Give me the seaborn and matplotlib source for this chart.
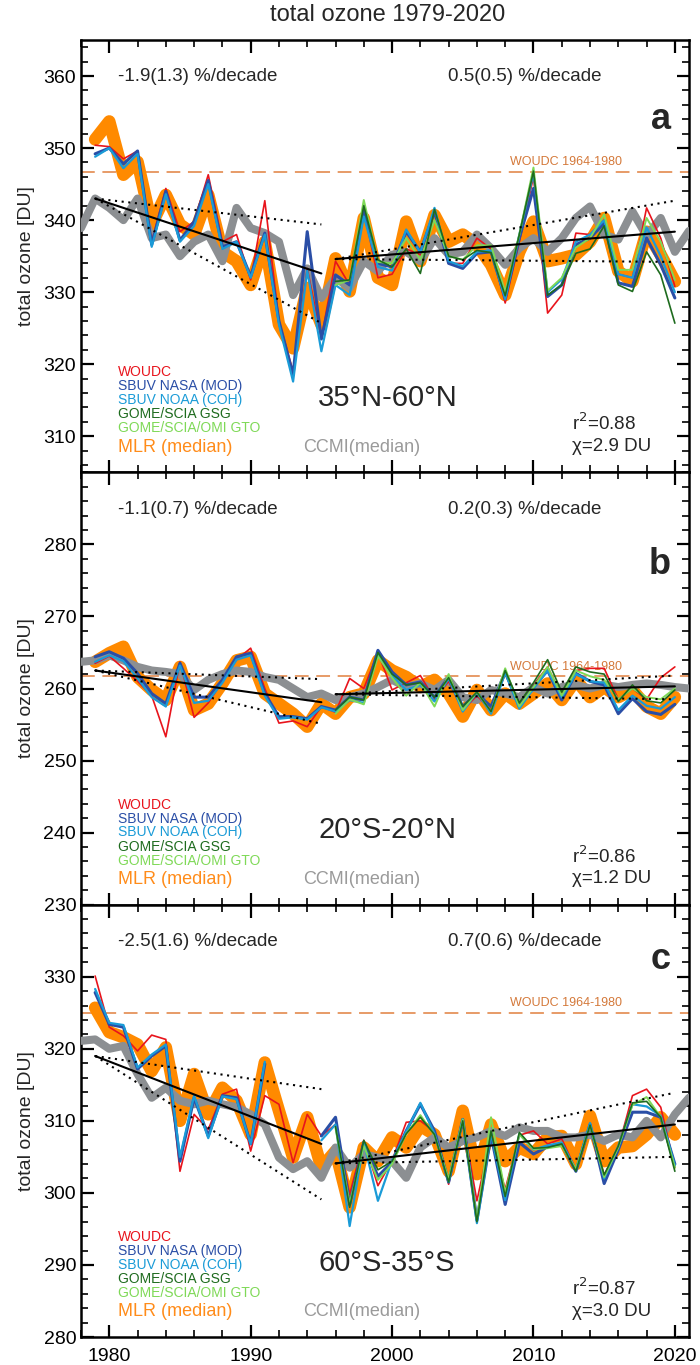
import numpy as np
import pandas as pd
import seaborn as sns
import matplotlib.pyplot as plt
from matplotlib.ticker import MultipleLocator

# Years
years = np.arange(1979, 2021)
gome_years = np.arange(1996, 2021)
ccmi_years = np.arange(1978, 2022)
nan = np.nan

# Panel a: 35N-60N
woudc_a = [350.4, 350.2, 348.5, 349.6, 337.0, 344.4, 338.4, 339.8, 346.3, 337.0,
           338.0, 331.7, 342.7, 326.0, 319.0, 333.3, 323.6, 334.3, 331.0, 341.5,
           332.0, 332.5, 336.0, 335.2, 341.0, 334.0, 334.0, 337.5, 336.0, 328.5,
           337.0, 346.0, 327.1, 329.6, 338.2, 338.0, 340.0, 332.5, 332.0, 341.7,
           337.5, 330.8]
nasa_a = [349.2, 350.0, 347.8, 349.6, 336.6, 344.0, 337.2, 339.8, 345.5, 336.3,
          337.0, 332.2, 338.2, 326.0, 318.5, 338.4, 323.5, 332.4, 331.0, 341.2,
          334.0, 333.5, 338.4, 335.6, 341.2, 334.0, 333.3, 335.4, 335.6, 329.2,
          337.5, 344.4, 329.4, 331.0, 336.6, 337.5, 339.6, 331.3, 330.8, 337.5,
          333.8, 329.2]
noaa_a = [348.8, 350.0, 347.2, 349.2, 336.3, 343.6, 337.0, 339.2, 345.0, 336.0,
          337.0, 332.0, 338.0, 325.5, 317.6, 333.0, 321.8, 331.0, 329.6, 340.5,
          333.5, 333.0, 338.7, 335.5, 341.7, 334.3, 333.6, 335.6, 335.8, 329.0,
          338.0, 346.5, 330.0, 331.8, 337.0, 338.0, 340.0, 332.5, 332.0, 339.0,
          335.0, 330.0]
gsg_a = [331.5, 331.7, 342.0, 334.5, 333.5, 336.0, 332.6, 341.5, 335.0, 334.5,
         335.8, 335.5, 329.5, 338.0, 346.8, 329.6, 331.0, 335.4, 336.0, 339.2,
         331.0, 330.1, 335.6, 332.4, 325.7]
gto_a = [331.0, 331.7, 342.8, 334.2, 334.0, 337.5, 334.5, 340.0, 335.0, 334.5,
         336.5, 336.5, 330.0, 338.0, 347.3, 330.2, 332.0, 336.2, 337.5, 340.8,
         333.1, 333.1, 340.3, 337.0, 331.7]
mlr_a = [351.2, 353.7, 346.3, 348.1, 339.4, 343.5, 339.4, 338.0, 343.5, 335.6,
         334.3, 331.0, 337.0, 325.5, 322.2, 330.6, 325.5, 334.7, 330.1, 340.3,
         332.0, 331.0, 339.8, 334.3, 340.7, 337.0, 338.0, 336.6, 333.8, 329.6,
         335.6, 339.8, 334.3, 334.7, 335.2, 337.0, 340.3, 332.9, 331.5, 338.4,
         335.2, 331.5]
ccmi_a = [338.9, 343.0, 341.7, 340.0, 343.0, 337.5, 338.0, 335.0, 337.0, 338.0,
          334.3, 341.7, 338.9, 338.2, 337.0, 329.6, 333.3, 329.2, 332.0, 330.6,
          334.3, 332.9, 335.2, 335.6, 334.3, 337.5, 335.2, 335.6, 338.0, 336.1,
          333.8, 336.1, 337.5, 335.6, 337.5, 340.3, 341.9, 338.0, 337.3, 341.2,
          337.8, 340.3, 335.6, 338.5]

# Panel b: 20S-20N
woudc_b = [263.5, 264.5, 262.8, 261.0, 259.0, 253.3, 263.7, 256.0, 258.0, 261.0,
           264.0, 265.6, 260.0, 255.2, 255.5, 254.7, 257.5, 256.7, 261.4, 260.0,
           265.0, 259.8, 260.8, 261.8, 258.5, 261.0, 257.0, 259.0, 257.0, 262.0,
           258.0, 260.5, 263.0, 259.0, 262.5, 262.8, 262.8, 258.5, 260.0, 258.5,
           261.5, 263.0]
nasa_b = [264.4, 265.1, 264.2, 262.1, 259.3, 257.9, 263.5, 258.8, 258.8, 261.2,
          264.4, 264.9, 259.3, 256.1, 256.1, 255.8, 257.5, 257.0, 258.8, 258.4,
          265.3, 262.3, 260.5, 260.9, 258.8, 261.6, 257.5, 259.3, 257.5, 262.3,
          257.5, 260.2, 262.5, 258.4, 262.1, 261.0, 260.5, 256.5, 258.6, 256.8,
          256.4, 257.8]
noaa_b = [263.7, 264.6, 263.8, 261.4, 258.8, 257.5, 263.2, 258.0, 258.3, 260.8,
          264.0, 264.6, 259.0, 255.8, 256.0, 255.7, 257.4, 256.8, 258.4, 258.0,
          264.8, 261.8, 259.8, 260.5, 258.2, 261.4, 256.8, 259.5, 256.5, 262.2,
          257.2, 260.0, 262.5, 258.8, 262.0, 261.0, 260.8, 257.0, 259.0, 257.6,
          257.2, 258.8]
gsg_b = [257.0, 258.8, 258.4, 265.0, 262.0, 260.5, 260.8, 258.8, 261.5, 257.5,
         259.5, 256.8, 262.5, 258.0, 260.8, 264.0, 259.5, 263.0, 262.3, 262.0,
         258.2, 260.5, 258.3, 258.0, 259.8]
gto_b = [256.5, 258.5, 257.8, 264.5, 261.5, 259.0, 260.8, 257.5, 262.0, 257.0,
         259.5, 256.8, 262.8, 257.5, 260.2, 263.0, 259.0, 262.5, 261.7, 261.2,
         258.5, 260.0, 258.8, 258.5, 260.0]
mlr_b = [263.7, 264.9, 265.8, 261.6, 259.8, 258.4, 263.0, 257.0, 257.9, 260.7,
         263.9, 264.4, 259.3, 257.9, 256.5, 254.7, 257.9, 256.5, 258.8, 259.3,
         263.9, 262.5, 261.6, 260.2, 261.2, 259.3, 256.1, 259.8, 257.0, 259.3,
         257.9, 259.3, 260.7, 258.4, 261.2, 258.8, 260.2, 258.8, 259.8, 257.5,
         256.5, 258.8]
ccmi_b = [263.7, 263.9, 264.6, 263.9, 263.0, 262.5, 262.3, 262.0, 259.8, 261.2,
          262.0, 262.5, 262.3, 261.6, 261.2, 260.0, 258.8, 259.3, 258.4, 258.8,
          259.3, 260.2, 261.2, 260.2, 260.7, 259.8, 261.2, 258.8, 258.4, 259.8,
          259.3, 258.8, 260.2, 259.3, 260.2, 260.5, 260.0, 260.5, 260.2, 260.5,
          260.7, 260.5, 260.2, 260.0]

# Panel c: 60S-35S (SBUV has no data 1992-1994)
woudc_c = [330.1, 323.0, 321.8, 319.7, 321.9, 321.3, 303.0, 310.9, 308.8, 313.7,
           314.4, 305.8, 313.5, 312.3, 304.2, 310.9, 307.9, 309.5, 299.8, 307.3,
           301.0, 304.5, 309.8, 310.0, 308.5, 301.2, 310.0, 298.9, 308.0, 300.5,
           308.0, 308.6, 306.8, 307.5, 303.2, 309.5, 302.5, 306.3, 313.5, 314.4,
           311.9, 303.5]
nasa_c = [327.8, 323.4, 323.0, 317.2, 319.0, 320.4, 304.4, 313.2, 307.9, 313.5,
          313.2, 306.8, 317.9, nan, nan, nan, 307.9, 310.5, 298.4, 307.0,
          302.3, 304.3, 308.6, 312.3, 308.6, 301.5, 310.2, 296.2, 308.0, 298.4,
          307.0, 305.4, 306.4, 306.8, 303.0, 309.5, 301.3, 306.0, 311.2, 311.2,
          310.5, 304.0]
noaa_c = [328.3, 323.6, 323.3, 317.4, 319.2, 320.6, 305.0, 313.5, 307.6, 313.4,
          313.0, 306.8, 318.2, nan, nan, nan, 307.3, 309.5, 295.4, 307.0,
          298.9, 304.5, 308.5, 312.5, 308.2, 301.5, 310.2, 295.8, 308.3, 299.0,
          308.2, 306.0, 306.6, 307.0, 303.2, 309.7, 302.0, 306.5, 312.3, 312.0,
          310.7, 303.8]
gsg_c = [309.2, 298.0, 307.3, 303.2, 304.4, 308.2, 310.5, 308.1, 301.5, 310.0,
         296.0, 308.6, 299.5, 308.4, 306.2, 306.3, 306.8, 303.0, 309.4, 302.5,
         306.5, 312.5, 312.7, 310.5, 303.0]
gto_c = [309.0, 298.5, 306.5, 301.8, 304.0, 308.2, 310.8, 308.0, 301.9, 310.2,
         296.3, 310.5, 300.0, 308.1, 306.1, 306.2, 306.5, 303.3, 309.3, 302.2,
         306.3, 312.2, 313.3, 310.5, 303.5]
mlr_c = [325.7, 322.3, 321.6, 320.6, 316.9, 320.2, 310.0, 316.5, 310.9, 314.6,
         312.8, 308.1, 318.1, 311.4, 304.9, 310.5, 303.5, 305.8, 298.0, 306.3,
         304.4, 307.7, 306.3, 309.3, 308.1, 303.0, 311.4, 302.6, 309.5, 304.4,
         306.3, 305.4, 307.7, 307.9, 304.0, 310.7, 304.4, 306.3, 306.5, 308.1,
         310.5, 308.1]
ccmi_c = [321.1, 321.3, 320.0, 320.4, 316.5, 313.2, 314.6, 312.8, 312.3, 312.8,
          312.3, 311.9, 310.9, 309.5, 304.9, 303.3, 304.4, 302.1, 306.3, 303.5,
          305.4, 304.9, 304.4, 302.1, 306.3, 307.7, 306.3, 307.2, 307.7, 308.6,
          307.9, 309.1, 308.6, 308.6, 307.7, 307.7, 308.1, 307.2, 308.1, 307.7,
          310.0, 307.7, 310.9, 313.2]

# Trend periods, fits [start, end] and the ends of the uncertainty range
early_years = [1979, 1995]
late_years = [1996, 2020]
early_fit = {'a': [343.0, 332.6], 'b': [262.5, 258.1], 'c': [319.0, 306.8]}
early_band = {'a': [339.4, 325.7], 'b': [261.3, 255.1], 'c': [314.4, 299.1]}
late_fit = {'a': [334.6, 338.4], 'b': [259.2, 260.3], 'c': [304.1, 309.5]}
late_band = {'a': [342.7, 334.2], 'b': [261.8, 258.5], 'c': [313.9, 305.0]}

# Texts
early_trend = {'a': '-1.9(1.3) %/decade', 'b': '-1.1(0.7) %/decade', 'c': '-2.5(1.6) %/decade'}
late_trend = {'a': '0.5(0.5) %/decade', 'b': '0.2(0.3) %/decade', 'c': '0.7(0.6) %/decade'}
regions = {'a': '35°N-60°N', 'b': '20°S-20°N', 'c': '60°S-35°S'}
r2 = {'a': '0.88', 'b': '0.86', 'c': '0.87'}
chi = {'a': '2.9', 'b': '1.2', 'c': '3.0'}
woudc_ref = {'a': 346.7, 'b': 261.7, 'c': 325.0}
ylims = {'a': (305, 365), 'b': (230, 290), 'c': (280, 340)}
letter_y = {'a': 0.794, 'b': 0.766, 'c': 0.852}

data = {
    'a': [woudc_a, nasa_a, noaa_a, gsg_a, gto_a, mlr_a, ccmi_a],
    'b': [woudc_b, nasa_b, noaa_b, gsg_b, gto_b, mlr_b, ccmi_b],
    'c': [woudc_c, nasa_c, noaa_c, gsg_c, gto_c, mlr_c, ccmi_c],
}

names = ['WOUDC', 'SBUV NASA (MOD)', 'SBUV NOAA (COH)', 'GOME/SCIA GSG', 'GOME/SCIA/OMI GTO']
colors = ['#e8141c', '#2a4ea6', '#1a9bd7', '#1e6b1e', '#7fd957']
widths = [1.2, 2.2, 1.6, 1.2, 1.4]
orange = '#ff8a00'
grey = '#8c8f92'

sns.set_theme(style='ticks')
plt.rcParams['font.family'] = ['Liberation Sans', 'DejaVu Sans']


def draw(ax, x, y, color, lw, z):
    # draw a series, leaving gaps where values are missing
    s = pd.Series(y, index=x, dtype=float)
    seg = s.isna().cumsum()
    ok = s.notna()
    for _, part in s[ok].groupby(seg[ok]):
        sns.lineplot(x=part.index, y=part.values, ax=ax, color=color, lw=lw, zorder=z)


fig, axes = plt.subplots(3, 1, figsize=(7, 13.65), sharex=True)
fig.subplots_adjust(left=0.1157, right=0.9843, top=0.9707, bottom=0.0205, hspace=0)

for ax, key in zip(axes, ['a', 'b', 'c']):
    woudc, nasa, noaa, gsg, gto, mlr, ccmi = data[key]

    draw(ax, years, mlr, orange, 9, 2)
    draw(ax, ccmi_years, ccmi, grey, 5.8, 3)
    draw(ax, years, woudc, colors[0], widths[0], 4)
    draw(ax, years, nasa, colors[1], widths[1], 5)
    draw(ax, years, noaa, colors[2], widths[2], 6)
    draw(ax, gome_years, gto, colors[4], widths[4], 7)
    draw(ax, gome_years, gsg, colors[3], widths[3], 8)

    # trends with uncertainty
    for yrs, fit, band in [(early_years, early_fit[key], early_band[key]),
                           (late_years, late_fit[key], late_band[key])]:
        ax.plot(yrs, fit, color='black', lw=1.5, zorder=9)
        for b in band:
            ax.plot(yrs, [fit[0], b], color='black', lw=1.5, dashes=(1, 2.2), zorder=9)

    # WOUDC 1964-1980 mean
    ax.axhline(woudc_ref[key], color='#e0803e', lw=1.1, dashes=(9, 5), zorder=1)
    ax.annotate('WOUDC 1964-1980', xy=(0.706, woudc_ref[key]), xycoords=('axes fraction', 'data'),
                xytext=(0, 2.5), textcoords='offset points', fontsize=9, color='#d4793a', va='bottom')

    ax.set_xlim(1978, 2021)
    lo, hi = ylims[key]
    ax.set_ylim(lo, hi)
    ax.set_yticks(np.arange(lo + (10 - lo % 10) % 10, hi, 10))
    ax.xaxis.set_major_locator(MultipleLocator(10))
    ax.xaxis.set_minor_locator(MultipleLocator(2))
    ax.yaxis.set_minor_locator(MultipleLocator(2))
    ax.tick_params(which='both', direction='in', top=True, right=True, colors='black')
    ax.tick_params(which='major', length=9, width=1.6, labelsize=14)
    ax.tick_params(which='minor', length=5, width=1.2)
    ax.tick_params(axis='x', pad=8)
    for sp in ax.spines.values():
        sp.set_linewidth(1.8)
        sp.set_color('black')
    ax.set_xlabel('')
    ax.set_ylabel('total ozone [DU]', fontsize=14)
    ax.yaxis.label.set_va('center')
    ax.yaxis.set_label_coords(-0.09, 0.5)

    # annotations
    ax.text(0.061, 0.915, early_trend[key], transform=ax.transAxes, fontsize=13.5, va='center')
    ax.text(0.604, 0.915, late_trend[key], transform=ax.transAxes, fontsize=13.5, va='center')
    ax.text(0.97, letter_y[key], key, transform=ax.transAxes, fontsize=26, fontweight='bold',
            ha='right', va='baseline')
    ax.text(0.39, 0.172, regions[key], transform=ax.transAxes, fontsize=21, va='center')
    ax.text(0.808, 0.113, 'r$^2$=' + r2[key], transform=ax.transAxes, fontsize=13.5, va='center')
    ax.text(0.808, 0.06, 'χ=' + chi[key] + ' DU', transform=ax.transAxes, fontsize=13.5, va='center')

    # legend as coloured text
    for name, c, yy in zip(names, colors, [0.231, 0.199, 0.167, 0.134, 0.102]):
        ax.text(0.061, yy, name, transform=ax.transAxes, fontsize=10, color=c, va='center')
    ax.text(0.061, 0.058, 'MLR (median)', transform=ax.transAxes, fontsize=13, color='#ff8c1a', va='center')
    ax.text(0.365, 0.058, 'CCMI(median)', transform=ax.transAxes, fontsize=13, color='#9a9a9a', va='center')

fig.text(0.554, 1 - 15 / 1365, 'total ozone 1979-2020', ha='center', va='center', fontsize=17)

fig.savefig('out.png', dpi=100)
